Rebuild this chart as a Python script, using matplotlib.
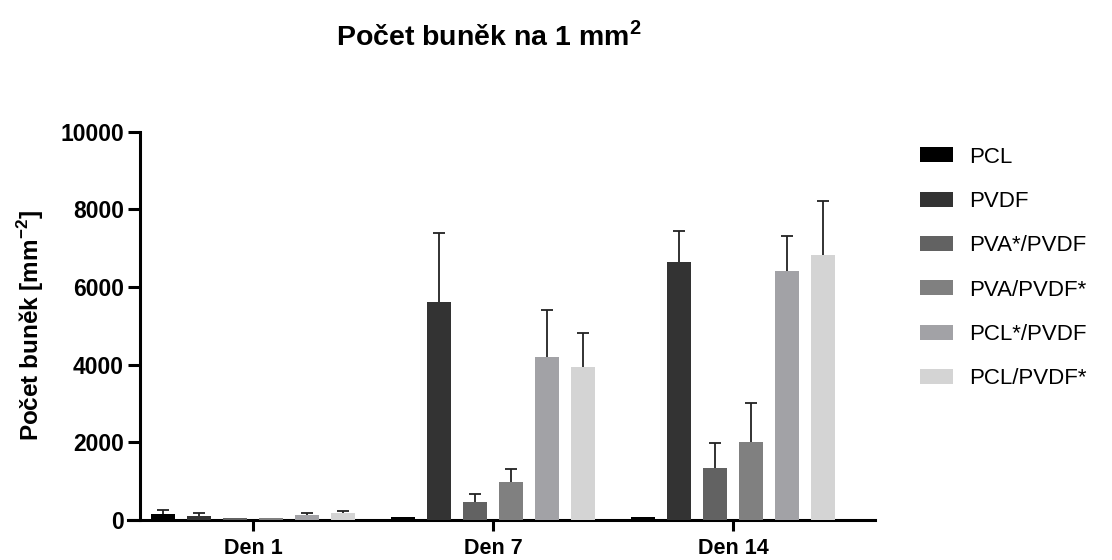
import matplotlib
matplotlib.use('Agg')
import matplotlib.pyplot as plt
import numpy as np

plt.rcParams['font.family'] = ['Liberation Sans', 'DejaVu Sans']
plt.rcParams['mathtext.fontset'] = 'custom'
plt.rcParams['mathtext.rm'] = 'Liberation Sans'
plt.rcParams['mathtext.bf'] = 'Liberation Sans:bold'

# data
days = ['Den 1', 'Den 7', 'Den 14']
materials = ['PCL', 'PVDF', 'PVA*/PVDF', 'PVA/PVDF*', 'PCL*/PVDF', 'PCL/PVDF*']
colors = ['#000000', '#333333', '#626262', '#808080', '#a2a2a6', '#d4d4d4']
yticks = [0, 2000, 4000, 6000, 8000, 10000]

pcl = [160, 80, 70]
pvdf = [100, 5600, 6630]
pva_s_pvdf = [60, 470, 1350]
pva_pvdf_s = [50, 990, 2020]
pcl_s_pvdf = [130, 4200, 6410]
pcl_pvdf_s = [190, 3930, 6820]

pcl_sd = [90, 0, 0]
pvdf_sd = [90, 1790, 810]
pva_s_pvdf_sd = [0, 190, 640]
pva_pvdf_s_sd = [0, 320, 990]
pcl_s_pvdf_sd = [50, 1200, 900]
pcl_pvdf_s_sd = [30, 890, 1400]

means = [pcl, pvdf, pva_s_pvdf, pva_pvdf_s, pcl_s_pvdf, pcl_pvdf_s]
sds = [pcl_sd, pvdf_sd, pva_s_pvdf_sd, pva_pvdf_s_sd, pcl_s_pvdf_sd, pcl_pvdf_s_sd]

fig = plt.figure(figsize=(11.12, 5.6), dpi=100)
ax = fig.add_axes([128/1112, 40/560, 747/1112, 388.5/560])

x = np.arange(len(days))
slot = 0.15
width = 0.1
for i, (m, s, c, lab) in enumerate(zip(means, sds, colors, materials)):
    pos = x + (i - 2.5) * slot
    ax.bar(pos, m, width=width, color=c, edgecolor='none', label=lab, zorder=3)
    # error bars drawn behind the bars so only the upper half shows
    s = np.array(s)
    mask = s > 0
    ax.errorbar(pos[mask], np.array(m)[mask], yerr=s[mask],
                fmt='none', ecolor='#222222', elinewidth=1.3, capsize=4.3, capthick=1.3, zorder=2)

ax.set_xlim(-0.5208, 2.5917)
ax.set_ylim(0, 10000)

for sp in ['top', 'right']:
    ax.spines[sp].set_visible(False)
ax.spines['left'].set_position(('data', -0.4708))
ax.spines['left'].set_linewidth(2.2)
ax.spines['bottom'].set_linewidth(2.2)
ax.tick_params(axis='y', width=2.2, length=8.5, pad=3)
ax.tick_params(axis='x', width=2.2, length=8, pad=5)

ax.set_yticks(yticks, [str(v) for v in yticks], fontweight='bold', fontsize=16.5)
ax.set_xticks(x, days, fontweight='bold', fontsize=15.5)

ax.set_ylabel(r'Počet buněk [mm$^{\mathbf{-2}}$]', fontweight='bold', fontsize=17.5)
ax.yaxis.set_label_coords(-0.11, 0.5)
fig.text(0.44, 0.935, r'Počet buněk na 1 mm$^{\mathbf{2}}$', ha='center', va='center',
         fontweight='bold', fontsize=20.5)

fig.legend(loc='upper left', bbox_to_anchor=(0.817, 0.758), frameon=False, fontsize=16,
           handlelength=1.5, handleheight=0.68, labelspacing=1.05, handletextpad=0.75,
           borderpad=0)

fig.savefig('out.png', dpi=100)
